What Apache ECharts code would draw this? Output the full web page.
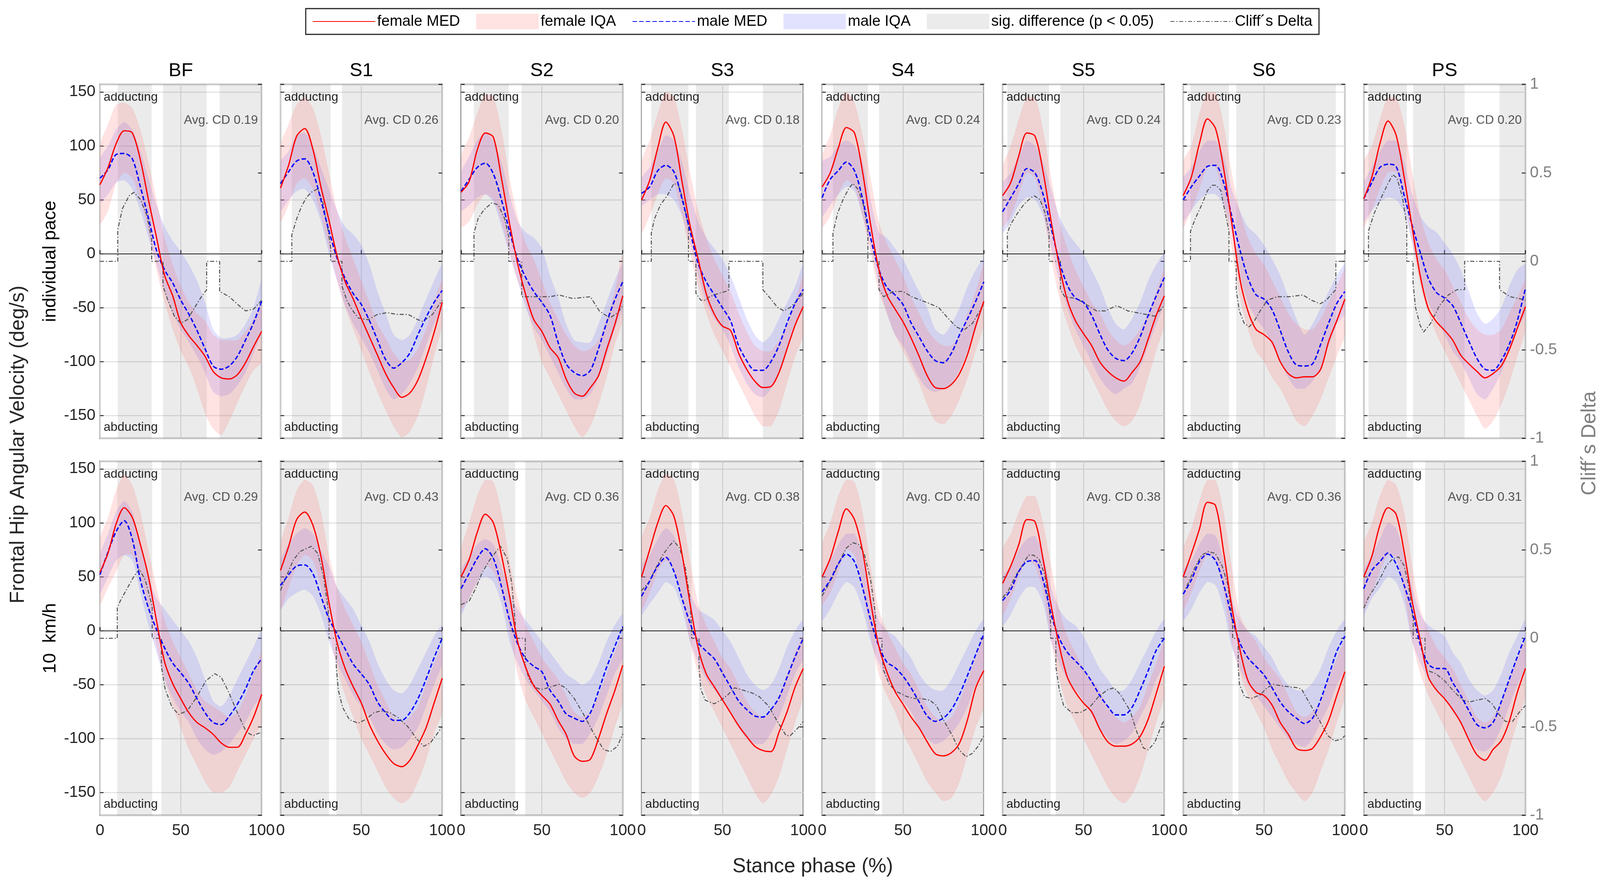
<!DOCTYPE html>
<html>
<head>
<meta charset="utf-8">
<title>Frontal Hip Angular Velocity</title>
<script src="https://cdn.jsdelivr.net/npm/echarts@6/dist/echarts.min.js"></script>
<style>
  html, body { margin: 0; padding: 0; background: #fff; overflow: hidden; }
  #chart { width: 100vw; height: 100vh; }
</style>
</head>
<body>
<div id="chart"></div>
<script>
(function () {
    'use strict';

    // columns = shoe conditions, rows = running pace
    var shoes = ['BF', 'S1', 'S2', 'S3', 'S4', 'S5', 'S6', 'PS'];
    var paces = ['individual pace', '10  km/h'];
    var phase = [0, 5, 10, 15, 20, 25, 30, 35, 40, 45, 50, 55, 60, 65, 70, 75, 80, 85, 90, 95, 100];
    var cdTicks = [-1, -0.5, 0, 0.5, 1];

    var avgCD = [
        [0.19, 0.26, 0.20, 0.18, 0.24, 0.24, 0.23, 0.20],
        [0.29, 0.43, 0.36, 0.38, 0.40, 0.38, 0.36, 0.31]
    ];

    var femaleMed = [[
        [64, 80, 102, 114, 112, 87, 50, 15, -20, -39, -64, -76, -85, -95, -109, -115, -116, -112, -101, -86, -72],
        [61, 82, 109, 116, 97, 62, 31, -2, -26, -42, -60, -77, -94, -111, -124, -133, -129, -117, -97, -73, -45],
        [57, 67, 96, 112, 108, 70, 28, -9, -38, -61, -72, -87, -96, -116, -129, -132, -124, -113, -89, -66, -39],
        [50, 68, 98, 122, 109, 67, 26, -5, -37, -56, -67, -71, -92, -107, -118, -124, -123, -110, -88, -66, -49],
        [62, 75, 98, 117, 112, 76, 27, -14, -38, -51, -63, -78, -95, -113, -124, -125, -121, -111, -93, -67, -44],
        [54, 66, 91, 112, 109, 76, 30, -11, -43, -62, -74, -85, -100, -109, -115, -118, -110, -100, -79, -57, -39],
        [54, 71, 102, 125, 116, 79, 29, -23, -53, -70, -75, -82, -100, -111, -115, -114, -114, -107, -81, -62, -42],
        [51, 71, 102, 123, 110, 71, 24, -21, -51, -63, -71, -80, -94, -102, -109, -115, -111, -104, -89, -69, -49]
    ], [
        [54, 72, 99, 114, 105, 80, 50, 9, -29, -49, -63, -76, -85, -90, -96, -104, -108, -108, -96, -80, -59],
        [56, 78, 103, 110, 98, 69, 26, -11, -35, -52, -67, -87, -102, -114, -123, -126, -120, -106, -90, -67, -44],
        [50, 66, 91, 108, 100, 70, 32, -10, -34, -51, -60, -68, -83, -96, -116, -121, -119, -100, -77, -56, -32],
        [50, 75, 100, 116, 106, 71, 25, -16, -40, -52, -64, -76, -88, -98, -107, -111, -112, -94, -75, -52, -35],
        [50, 67, 92, 113, 103, 74, 27, -14, -38, -56, -68, -80, -90, -103, -114, -116, -113, -104, -82, -53, -37],
        [44, 60, 80, 103, 101, 66, 23, -14, -43, -57, -67, -75, -91, -103, -107, -107, -105, -98, -82, -58, -33],
        [50, 71, 94, 119, 116, 73, 23, -17, -46, -57, -60, -69, -85, -96, -109, -111, -109, -98, -83, -60, -38],
        [50, 69, 98, 114, 108, 73, 27, -9, -43, -55, -63, -73, -85, -101, -115, -120, -110, -102, -84, -57, -35]
    ]];

    var femaleLow = [[
        [28, 40, 65, 75, 70, 50, 20, -15, -45, -70, -90, -105, -125, -148, -162, -168, -155, -138, -122, -108, -100],
        [30, 45, 65, 70, 60, 35, 5, -25, -50, -70, -90, -110, -128, -145, -160, -170, -165, -150, -125, -95, -65],
        [25, 30, 45, 55, 50, 30, 0, -25, -45, -75, -100, -115, -130, -145, -160, -170, -160, -140, -115, -85, -60],
        [20, 35, 55, 70, 65, 35, 0, -30, -55, -75, -90, -105, -120, -135, -150, -160, -160, -145, -120, -95, -75],
        [25, 35, 55, 68, 62, 35, 0, -35, -55, -75, -90, -105, -120, -140, -155, -158, -150, -135, -115, -90, -65],
        [25, 35, 55, 75, 70, 40, -5, -40, -65, -85, -100, -115, -130, -145, -155, -160, -155, -140, -115, -90, -65],
        [25, 40, 60, 80, 80, 50, 5, -40, -70, -90, -100, -115, -125, -140, -155, -160, -150, -135, -115, -95, -75],
        [25, 40, 60, 75, 75, 50, 10, -30, -55, -75, -90, -105, -120, -135, -150, -162, -155, -140, -120, -95, -70]
    ], [
        [25, 40, 55, 70, 70, 50, 20, -15, -45, -70, -90, -110, -125, -140, -150, -150, -145, -130, -115, -100, -85],
        [20, 40, 60, 70, 65, 40, 0, -35, -60, -80, -100, -115, -130, -145, -155, -160, -155, -140, -120, -95, -75],
        [20, 30, 45, 60, 55, 35, 0, -40, -65, -80, -95, -110, -125, -140, -150, -155, -150, -135, -115, -90, -65],
        [20, 35, 55, 65, 55, 30, -10, -40, -60, -75, -90, -105, -120, -135, -150, -160, -152, -135, -110, -85, -60],
        [25, 35, 55, 75, 70, 40, -5, -40, -60, -75, -95, -110, -125, -140, -150, -158, -155, -140, -115, -90, -70],
        [15, 30, 50, 65, 60, 35, -10, -45, -70, -85, -100, -115, -130, -145, -155, -160, -152, -135, -110, -85, -60],
        [20, 35, 55, 70, 65, 35, -10, -40, -60, -75, -90, -110, -125, -140, -150, -158, -150, -130, -110, -85, -60],
        [20, 35, 55, 70, 68, 35, -10, -40, -60, -75, -90, -105, -120, -135, -150, -158, -150, -135, -110, -85, -60]
    ]];

    var femaleHigh = [[
        [100, 120, 138, 140, 135, 115, 85, 50, 15, -10, -30, -45, -55, -62, -75, -80, -80, -80, -72, -60, -45],
        [100, 120, 138, 145, 135, 110, 75, 40, 15, -5, -25, -45, -65, -78, -92, -100, -98, -88, -70, -45, -25],
        [90, 108, 130, 148, 145, 115, 70, 35, 10, -5, -25, -45, -60, -75, -85, -90, -88, -80, -60, -35, 0],
        [85, 105, 130, 150, 145, 115, 75, 40, 15, -5, -20, -35, -55, -72, -85, -90, -90, -80, -65, -45, -20],
        [90, 110, 135, 150, 140, 110, 70, 30, 10, -5, -20, -40, -55, -70, -80, -85, -85, -75, -55, -35, -10],
        [80, 100, 125, 145, 145, 115, 70, 30, 5, -15, -30, -45, -55, -70, -80, -85, -80, -70, -55, -35, -15],
        [85, 100, 130, 150, 150, 120, 75, 40, 15, 0, -10, -25, -40, -55, -65, -70, -70, -60, -45, -30, -15],
        [85, 100, 125, 145, 145, 120, 75, 35, 10, -5, -15, -30, -45, -60, -70, -75, -75, -70, -55, -40, -25]
    ], [
        [85, 105, 130, 145, 135, 110, 75, 40, 10, -10, -25, -40, -55, -65, -70, -75, -80, -75, -60, -40, -20],
        [80, 105, 130, 140, 135, 110, 70, 40, 20, 5, -10, -30, -50, -65, -80, -85, -80, -70, -50, -30, -15],
        [75, 100, 125, 140, 138, 110, 65, 30, 5, -10, -25, -35, -45, -60, -75, -80, -75, -60, -40, -20, -5],
        [85, 105, 130, 145, 140, 110, 65, 25, 5, -10, -25, -35, -50, -65, -75, -80, -75, -60, -40, -20, -5],
        [80, 100, 125, 140, 138, 110, 60, 20, 0, -15, -30, -40, -55, -70, -80, -85, -80, -65, -45, -25, -5],
        [75, 90, 110, 125, 125, 100, 60, 20, -5, -20, -35, -45, -55, -70, -80, -85, -80, -70, -50, -30, -10],
        [75, 95, 120, 140, 140, 110, 60, 15, 0, -10, -25, -35, -45, -60, -75, -80, -75, -65, -45, -25, -10],
        [80, 100, 125, 140, 135, 110, 60, 20, 0, -15, -25, -35, -50, -65, -80, -85, -80, -65, -45, -25, -10]
    ]];

    var maleMed = [[
        [70, 78, 92, 93, 88, 62, 33, 3, -15, -27, -43, -56, -71, -88, -104, -107, -104, -95, -80, -64, -44],
        [65, 76, 86, 88, 76, 50, 21, -4, -23, -37, -47, -62, -80, -98, -106, -101, -92, -75, -59, -45, -34],
        [58, 69, 80, 84, 74, 50, 21, -5, -22, -35, -45, -57, -82, -102, -110, -113, -108, -88, -64, -43, -26],
        [56, 62, 77, 82, 76, 51, 21, -9, -26, -38, -50, -62, -85, -99, -108, -108, -100, -85, -64, -46, -33],
        [52, 69, 77, 85, 77, 51, 15, -14, -31, -38, -47, -64, -77, -90, -99, -101, -92, -75, -60, -44, -26],
        [39, 52, 65, 79, 75, 55, 24, -7, -29, -41, -45, -57, -74, -89, -97, -99, -92, -77, -57, -39, -22],
        [50, 62, 72, 81, 82, 66, 35, 4, -22, -38, -42, -52, -71, -91, -103, -104, -102, -84, -64, -46, -35],
        [51, 66, 80, 83, 81, 54, 26, 1, -23, -36, -41, -48, -64, -81, -97, -107, -108, -99, -84, -62, -32]
    ], [
        [52, 73, 92, 102, 85, 47, 21, 1, -16, -30, -39, -49, -63, -76, -85, -87, -79, -68, -54, -37, -26],
        [42, 52, 60, 61, 53, 32, 11, -3, -17, -31, -40, -50, -66, -76, -83, -83, -76, -63, -45, -25, -7],
        [39, 53, 67, 76, 67, 41, 10, -12, -26, -33, -38, -55, -65, -77, -81, -84, -76, -56, -34, -15, 4],
        [32, 46, 60, 68, 55, 30, 7, -11, -19, -26, -39, -52, -65, -73, -79, -80, -73, -62, -43, -24, -7],
        [36, 47, 62, 71, 64, 40, 10, -14, -29, -34, -42, -53, -66, -79, -84, -81, -73, -59, -41, -22, -3],
        [28, 38, 55, 64, 65, 47, 15, -7, -20, -28, -36, -47, -60, -70, -78, -78, -71, -55, -37, -18, -7],
        [34, 47, 64, 71, 65, 43, 13, -11, -25, -33, -41, -53, -66, -75, -81, -86, -81, -64, -42, -19, -5],
        [39, 56, 64, 72, 62, 42, 18, -13, -31, -35, -35, -48, -60, -74, -87, -90, -85, -66, -45, -24, -5]
    ]];

    var maleLow = [[
        [48, 55, 66, 68, 60, 40, 15, -10, -35, -55, -70, -82, -95, -110, -128, -132, -130, -122, -110, -92, -72],
        [40, 50, 58, 60, 50, 30, 0, -25, -48, -65, -78, -92, -108, -125, -135, -130, -120, -105, -85, -65, -50],
        [40, 45, 52, 55, 48, 25, 0, -25, -50, -68, -80, -95, -110, -125, -135, -135, -130, -115, -95, -70, -50],
        [45, 50, 55, 55, 50, 35, 10, -20, -45, -60, -70, -85, -105, -120, -130, -133, -125, -110, -90, -65, -50],
        [35, 45, 55, 62, 58, 35, 5, -28, -55, -75, -85, -100, -115, -125, -128, -125, -120, -108, -90, -70, -45],
        [20, 30, 45, 52, 50, 35, 5, -25, -50, -70, -85, -100, -115, -125, -130, -125, -120, -105, -85, -65, -45],
        [30, 40, 50, 55, 55, 45, 20, -20, -45, -60, -70, -85, -100, -115, -125, -125, -118, -105, -85, -65, -55],
        [30, 40, 48, 52, 50, 38, 10, -20, -45, -60, -75, -90, -100, -115, -130, -135, -125, -110, -90, -70, -55]
    ], [
        [35, 50, 65, 70, 65, 35, 5, -20, -45, -62, -75, -85, -100, -110, -115, -112, -105, -95, -85, -70, -60],
        [20, 30, 35, 38, 32, 15, -10, -30, -45, -60, -70, -80, -95, -105, -110, -108, -100, -90, -70, -50, -30],
        [15, 30, 45, 50, 45, 25, -10, -30, -45, -55, -65, -75, -90, -100, -105, -105, -95, -80, -60, -40, -25],
        [15, 25, 35, 45, 40, 20, -10, -30, -45, -55, -65, -75, -90, -100, -105, -105, -95, -80, -60, -40, -25],
        [10, 20, 35, 45, 40, 20, -10, -30, -45, -55, -65, -75, -90, -100, -105, -102, -95, -85, -70, -50, -35],
        [5, 15, 30, 40, 40, 25, -10, -30, -45, -55, -65, -78, -90, -100, -105, -102, -95, -80, -65, -45, -30],
        [10, 20, 35, 45, 42, 20, -15, -35, -50, -60, -70, -80, -90, -100, -105, -108, -100, -85, -70, -50, -35],
        [15, 30, 40, 50, 45, 25, -10, -30, -45, -55, -62, -75, -85, -100, -110, -112, -105, -90, -70, -50, -35]
    ]];

    var maleHigh = [[
        [88, 100, 115, 122, 115, 95, 70, 45, 25, 12, 2, -10, -25, -45, -70, -78, -78, -75, -65, -50, -25],
        [85, 95, 110, 112, 100, 80, 60, 40, 25, 18, 8, -10, -35, -55, -75, -80, -75, -60, -42, -25, -10],
        [75, 90, 105, 112, 105, 85, 55, 30, 20, 15, 5, -20, -40, -65, -80, -82, -82, -65, -45, -25, -10],
        [70, 80, 95, 110, 105, 85, 55, 30, 15, 5, -5, -20, -40, -60, -75, -82, -75, -60, -45, -30, -10],
        [85, 90, 100, 105, 100, 85, 50, 20, 15, 5, -5, -20, -35, -50, -70, -75, -65, -50, -30, -15, -5],
        [65, 75, 90, 105, 100, 85, 60, 35, 20, 10, 0, -15, -30, -50, -65, -70, -60, -45, -25, -10, 0],
        [70, 80, 95, 105, 105, 90, 60, 40, 25, 18, 8, -5, -20, -40, -60, -75, -65, -50, -35, -20, -10],
        [65, 80, 95, 105, 105, 85, 55, 35, 25, 20, 10, 0, -15, -35, -55, -65, -60, -50, -30, -15, -10]
    ], [
        [70, 90, 110, 120, 110, 80, 50, 30, 20, 10, 0, -10, -25, -45, -65, -70, -60, -45, -30, -15, 0],
        [65, 80, 90, 95, 90, 75, 60, 40, 30, 20, 5, -10, -30, -45, -55, -58, -50, -35, -20, -5, 5],
        [55, 68, 80, 85, 80, 60, 35, 20, 10, 0, -10, -20, -30, -40, -45, -50, -45, -30, -10, 5, 15],
        [60, 70, 85, 95, 88, 65, 35, 20, 15, 10, 0, -10, -25, -40, -50, -55, -50, -35, -15, 0, 10],
        [50, 65, 80, 90, 90, 70, 35, 10, 0, -5, -15, -25, -40, -50, -55, -55, -45, -30, -15, 0, 10],
        [50, 60, 75, 85, 88, 70, 40, 20, 10, 5, -5, -20, -35, -45, -55, -55, -45, -30, -15, 0, 10],
        [55, 65, 80, 90, 88, 65, 30, 10, 0, -5, -15, -25, -40, -50, -55, -55, -48, -35, -15, 0, 10],
        [55, 70, 85, 100, 95, 70, 40, 15, 5, 0, -5, -20, -30, -45, -55, -60, -55, -40, -20, -5, 10]
    ]];

    // Cliff's delta, [phase %, delta]; zero where the difference is not significant
    var cliffDelta = [[
        [[0, 0], [11, 0], [11, 0.18], [14, 0.3], [18, 0.37], [21, 0.39], [25, 0.35], [29, 0.26], [32, 0.12], [32, 0], [39, 0], [39, -0.14], [42, -0.22], [46, -0.31], [50, -0.35], [54, -0.33], [58, -0.27], [62, -0.21], [66, -0.16], [66, 0], [74, 0], [74, -0.17], [80, -0.2], [86, -0.25], [90, -0.28], [95, -0.27], [100, -0.22]],
        [[0, 0], [7, 0], [7, 0.15], [10, 0.24], [13, 0.31], [16, 0.36], [19, 0.39], [23, 0.41], [26, 0.34], [29, 0.2], [31, 0.08], [31, 0], [38, 0], [38, -0.14], [41, -0.22], [44, -0.27], [48, -0.32], [54, -0.33], [60, -0.3], [66, -0.29], [72, -0.3], [79, -0.3], [85, -0.33], [88, -0.34], [94, -0.3], [100, -0.22]],
        [[0, 0], [8, 0], [8, 0.16], [10.5, 0.24], [14, 0.29], [19, 0.33], [23, 0.32], [27, 0.24], [29.5, 0.14], [29.5, 0], [37.5, 0], [37.5, -0.2], [42.5, -0.2], [49, -0.2], [55, -0.2], [60.5, -0.19], [69, -0.21], [80, -0.2], [85.5, -0.28], [92, -0.32], [97, -0.29], [100, -0.25]],
        [[0, 0], [6, 0], [6, 0.16], [8, 0.24], [11.7, 0.32], [15.8, 0.37], [20, 0.44], [22.8, 0.43], [25.6, 0.35], [28, 0.24], [29, 0.2], [29, 0], [33.6, 0], [33.6, -0.18], [36.7, -0.22], [39.5, -0.22], [42, -0.2], [48, -0.18], [52, -0.17], [54, -0.16], [54, 0], [75, 0], [75, -0.16], [79.7, -0.21], [84, -0.26], [88, -0.28], [92, -0.26], [96.4, -0.22], [100, -0.18]],
        [[0, 0], [6.7, 0], [6.7, 0.16], [9.5, 0.27], [13, 0.35], [16.4, 0.41], [19, 0.44], [22, 0.41], [25.5, 0.32], [27.6, 0.21], [28.3, 0.18], [28.3, 0], [35.2, 0], [35.2, -0.16], [38, -0.2], [44, -0.17], [50, -0.17], [55.4, -0.2], [64, -0.23], [72, -0.26], [77.7, -0.32], [83, -0.37], [87.5, -0.39], [93, -0.35], [100, -0.24]],
        [[0, 0], [2.9, 0], [2.9, 0.16], [5, 0.21], [9, 0.27], [13, 0.32], [17.5, 0.36], [19.6, 0.37], [23, 0.35], [26, 0.28], [28, 0.19], [28.7, 0.16], [28.7, 0], [35.7, 0], [35.7, -0.16], [38.4, -0.2], [45.4, -0.21], [51, -0.24], [58, -0.28], [63.5, -0.28], [70.5, -0.25], [77.4, -0.28], [83, -0.29], [88.6, -0.3], [94, -0.31], [100, -0.25]],
        [[0, 0], [4.5, 0], [4.5, 0.17], [7.4, 0.24], [12, 0.33], [15, 0.4], [18, 0.43], [20.3, 0.43], [23.3, 0.4], [25.6, 0.29], [27.9, 0.19], [28.3, 0.17], [28.3, 0], [32.8, 0], [32.8, -0.16], [34.7, -0.28], [37.7, -0.35], [40.8, -0.37], [43.8, -0.34], [47.6, -0.28], [52, -0.22], [58, -0.2], [65.8, -0.2], [74, -0.19], [79.4, -0.22], [84.7, -0.24], [88.5, -0.22], [92.3, -0.18], [94.4, -0.16], [94.4, 0], [100, 0]],
        [[0, 0], [2.9, 0], [2.9, 0.17], [6.4, 0.27], [10.8, 0.36], [15, 0.44], [18, 0.49], [20.6, 0.47], [24, 0.36], [26, 0.24], [26.6, 0.2], [26.6, 0], [30.5, 0], [30.5, -0.12], [32, -0.26], [34.8, -0.36], [37, -0.4], [41.4, -0.35], [46.8, -0.25], [52.3, -0.19], [57.7, -0.16], [62.4, -0.16], [62.4, 0], [84, 0], [84, -0.16], [90.5, -0.2], [96, -0.21], [100, -0.22]]
    ], [
        [[0, 0], [10.7, 0], [10.7, 0.17], [12.5, 0.21], [16.7, 0.28], [21, 0.35], [24.4, 0.39], [28, 0.33], [30.6, 0.24], [32.3, 0.18], [32.3, 0], [38, 0], [38, -0.16], [40.4, -0.29], [44.6, -0.39], [48.7, -0.43], [54, -0.41], [60, -0.33], [65.5, -0.24], [71, -0.2], [75, -0.22], [79.4, -0.3], [85, -0.42], [90.5, -0.53], [94.7, -0.55], [100, -0.53]],
        [[0, 0.27], [3.6, 0.35], [7.8, 0.44], [12, 0.49], [19, 0.52], [23, 0.48], [26.6, 0.35], [29.4, 0.17], [30, 0.1], [30, 0], [34.5, 0], [34.5, -0.16], [35.7, -0.29], [38.4, -0.39], [42.6, -0.46], [48, -0.48], [52.4, -0.46], [58, -0.42], [62, -0.41], [67.7, -0.42], [73, -0.45], [78.8, -0.5], [84.4, -0.57], [88.6, -0.61], [92.8, -0.59], [100, -0.5]],
        [[0, 0.19], [5, 0.21], [9, 0.28], [13, 0.37], [17.5, 0.44], [21.7, 0.49], [24.4, 0.52], [28.6, 0.45], [31.4, 0.31], [33, 0.14], [33.5, 0.1], [33.5, 0], [39.7, 0], [39.7, -0.16], [42.5, -0.24], [46.7, -0.28], [49.4, -0.29], [53.6, -0.28], [60.5, -0.26], [64.7, -0.28], [70, -0.34], [75.8, -0.43], [82.8, -0.55], [88.3, -0.63], [92.5, -0.64], [96.7, -0.61], [100, -0.54]],
        [[0, 0.27], [4.7, 0.32], [9, 0.4], [13, 0.47], [17, 0.52], [20, 0.55], [23.5, 0.51], [27, 0.4], [29.7, 0.24], [31, 0.05], [31, 0], [35.5, 0], [35.5, -0.16], [36.7, -0.29], [39.4, -0.35], [45, -0.37], [49, -0.35], [53.3, -0.32], [57.5, -0.28], [61.7, -0.29], [68.6, -0.31], [72.8, -0.33], [78.3, -0.38], [84, -0.47], [89.4, -0.55], [92, -0.55], [96.4, -0.51], [100, -0.47]],
        [[0, 0.24], [2.5, 0.28], [6.7, 0.35], [11, 0.44], [15, 0.51], [19, 0.54], [22.7, 0.53], [26, 0.48], [30, 0.33], [32.5, 0.17], [33, 0.12], [33, 0], [37, 0], [37, -0.09], [38, -0.18], [41.5, -0.26], [45.7, -0.3], [52.6, -0.33], [56.8, -0.34], [61, -0.34], [66.6, -0.35], [70.7, -0.38], [75, -0.46], [80.5, -0.55], [84.7, -0.63], [89, -0.67], [93, -0.65], [96.5, -0.61], [100, -0.55]],
        [[0, 0.23], [3.6, 0.27], [7.8, 0.35], [12, 0.41], [16, 0.47], [19, 0.47], [22.4, 0.45], [26, 0.36], [28, 0.24], [29.4, 0.11], [29.7, 0.08], [29.7, 0], [32.9, 0], [32.9, -0.16], [35, -0.29], [37.7, -0.38], [42.6, -0.42], [48, -0.42], [53.8, -0.39], [59.3, -0.33], [65, -0.29], [69, -0.28], [73, -0.32], [78.8, -0.41], [83, -0.53], [87, -0.62], [90, -0.63], [94, -0.59], [98.3, -0.49], [100, -0.46]],
        [[0, 0.25], [3, 0.31], [7.2, 0.4], [11.4, 0.47], [15.6, 0.49], [19.8, 0.48], [24, 0.41], [27.4, 0.31], [29.5, 0.17], [30.6, 0.06], [30.6, 0], [34, 0], [34, -0.16], [34.8, -0.26], [37.9, -0.33], [42, -0.34], [47.6, -0.32], [51.8, -0.28], [56, -0.26], [61.6, -0.27], [71.3, -0.28], [73.4, -0.29], [78.3, -0.37], [84, -0.46], [89.4, -0.55], [93.6, -0.58], [97.8, -0.57], [100, -0.55]],
        [[0, 0.17], [2.8, 0.23], [5.6, 0.27], [9.7, 0.33], [14, 0.41], [18, 0.45], [21.6, 0.46], [25, 0.41], [27.9, 0.29], [30, 0.14], [30.6, 0.1], [30.6, 0], [37.9, 0], [37.9, -0.13], [39, -0.18], [44.6, -0.2], [50, -0.24], [55.7, -0.3], [61.3, -0.35], [65.5, -0.36], [69.6, -0.35], [75.2, -0.34], [79.4, -0.37], [83.6, -0.43], [87.7, -0.47], [92, -0.47], [96, -0.42], [100, -0.38]]
    ]];

    // stance phase intervals with p < 0.05
    var sigSpans = [[
        [[11, 32], [39, 66], [74, 100]],
        [[7, 31], [38, 100]],
        [[8, 29.5], [37.5, 100]],
        [[6, 29], [33.6, 54], [75, 100]],
        [[6.7, 28.3], [35.2, 100]],
        [[2.9, 28.7], [35.7, 100]],
        [[4.5, 28.3], [32.8, 94.4]],
        [[2.9, 26.6], [30.5, 62.4], [84, 100]]
    ], [
        [[10.7, 32.3], [38, 100]],
        [[0, 30], [34.5, 100]],
        [[0, 33.5], [39.7, 100]],
        [[0, 31], [35.5, 100]],
        [[0, 33], [37, 100]],
        [[0, 29.7], [32.9, 100]],
        [[0, 30.6], [34, 100]],
        [[0, 30.6], [37.9, 100]]
    ]];

    // layout is designed on a 4354 x 2263 page and scaled to the real viewport
    var dom = document.getElementById('chart');
    var sx = dom.clientWidth / 4354, sy = dom.clientHeight / 2263, sf = Math.min(sx, sy);
    function X(v) { return v * sx; }
    function Y(v) { return v * sy; }
    function F(v) { return v * sf; }

    var GRID_LEFT = 272, PITCH = 491.3, GRID_W = 440, GRID_H = 906;
    var ROW_TOP = [216, 1181];
    var Y_MIN = -171, Y_MAX = 157;
    var FONT = '"Liberation Sans", Arial, Helvetica, sans-serif';
    var INK = '#262626';
    var RED = '#ff0000', BLUE = '#0000ff', CDGRAY = '#555555';
    var PINK = 'rgba(255, 120, 120, 0.21)';
    var LILAC = 'rgba(120, 120, 255, 0.21)';
    var SIG = 'rgba(0, 0, 0, 0.078)';
    var NOSYM = { color: 'rgba(0,0,0,0)', borderColor: 'rgba(0,0,0,0)', borderWidth: 0 };

    function pairs(xs, ys) {
        return xs.map(function (x, i) { return [x, ys[i]]; });
    }

    function sigItem(params, api) {
        var a = api.coord([api.value(0), Y_MAX]);
        var b = api.coord([api.value(1), Y_MIN]);
        return {
            type: 'rect',
            shape: { x: a[0], y: a[1], width: b[0] - a[0], height: b[1] - a[1] },
            style: { fill: SIG }
        };
    }

    function bandItem(lo, hi, color) {
        return function (params, api) {
            if (params.dataIndex !== 0) return null;
            var pts = [], i;
            for (i = 0; i < phase.length; i++) pts.push(api.coord([phase[i], hi[i]]));
            for (i = phase.length - 1; i >= 0; i--) pts.push(api.coord([phase[i], lo[i]]));
            var mn = [Infinity, Infinity], mx = [-Infinity, -Infinity];
            pts.forEach(function (p) {
                mn[0] = Math.min(mn[0], p[0]); mn[1] = Math.min(mn[1], p[1]);
                mx[0] = Math.max(mx[0], p[0]); mx[1] = Math.max(mx[1], p[1]);
            });
            return {
                type: 'polygon',
                shape: { points: pts, smooth: 0.25, smoothConstraint: [mn, mx] },
                style: { fill: color }
            };
        };
    }

    var tickStyle = { inside: true, length: F(10), lineStyle: { color: INK, width: F(2.5) } };
    var gridLine = { show: true, lineStyle: { color: '#dedede', width: F(2.5) } };

    var grids = [], xAxes = [], yAxes = [], series = [], graphic = [];

    for (var r = 0; r < 2; r++) {
        for (var c = 0; c < 8; c++) {
            var k = r * 8 + c;
            var left = GRID_LEFT + c * PITCH;
            var top = ROW_TOP[r];

            grids.push({
                left: X(left), top: Y(top), width: X(GRID_W), height: Y(GRID_H),
                show: true, borderColor: INK, borderWidth: F(3), backgroundColor: 'transparent'
            });

            xAxes.push({
                gridIndex: k, type: 'value', min: 0, max: 100, interval: 50,
                axisLine: { show: false },
                axisTick: tickStyle,
                axisLabel: { show: r === 1, margin: Y(20), fontSize: F(43), fontFamily: FONT, color: INK },
                splitLine: gridLine
            });

            yAxes.push({
                gridIndex: k, type: 'value', position: 'left',
                min: Y_MIN, max: Y_MAX, minInterval: 50, maxInterval: 50,
                axisLine: { show: false },
                axisTick: tickStyle,
                axisLabel: {
                    show: c === 0, margin: X(12), fontSize: F(43), fontFamily: FONT, color: INK,
                    showMinLabel: false, showMaxLabel: false
                },
                splitLine: gridLine
            });
            yAxes.push({
                gridIndex: k, type: 'value', position: 'right',
                min: cdTicks[0], max: cdTicks[cdTicks.length - 1], interval: 0.5,
                axisLine: { show: false },
                axisTick: tickStyle,
                axisLabel: { show: c === 7, margin: X(12), fontSize: F(43), fontFamily: FONT, color: '#808080' },
                splitLine: { show: false }
            });

            series.push({
                type: 'custom', name: 'sig. difference (p < 0.05)',
                xAxisIndex: k, yAxisIndex: 2 * k,
                data: sigSpans[r][c], renderItem: sigItem,
                itemStyle: { color: SIG }, clip: true, silent: true, z: 1
            });
            series.push({
                type: 'custom', name: 'male IQA',
                xAxisIndex: k, yAxisIndex: 2 * k,
                data: pairs(phase, maleMed[r][c]),
                renderItem: bandItem(maleLow[r][c], maleHigh[r][c], LILAC),
                itemStyle: { color: LILAC }, clip: true, silent: true, z: 2
            });
            series.push({
                type: 'custom', name: 'female IQA',
                xAxisIndex: k, yAxisIndex: 2 * k,
                data: pairs(phase, femaleMed[r][c]),
                renderItem: bandItem(femaleLow[r][c], femaleHigh[r][c], PINK),
                itemStyle: { color: PINK }, clip: true, silent: true, z: 2
            });
            series.push({
                type: 'line', name: 'Cliff\u00b4s Delta',
                xAxisIndex: k, yAxisIndex: 2 * k + 1,
                data: cliffDelta[r][c], symbol: 'none', silent: true,
                itemStyle: { color: CDGRAY },
                lineStyle: { color: CDGRAY, width: F(2.8), type: [F(11), F(5), F(3), F(5)] }, z: 3
            });
            series.push({
                type: 'line', name: 'male MED',
                xAxisIndex: k, yAxisIndex: 2 * k,
                data: pairs(phase, maleMed[r][c]), smooth: 0.3, symbol: 'none', silent: true,
                itemStyle: { color: BLUE },
                lineStyle: { color: BLUE, width: F(3.8), type: [F(12), F(6)] }, z: 4,
                markLine: {
                    silent: true, symbol: ['none', 'none'], animation: false,
                    label: { show: false },
                    lineStyle: { color: INK, width: F(2), type: 'solid' },
                    data: [{ yAxis: 0 }]
                }
            });
            series.push({
                type: 'line', name: 'female MED',
                xAxisIndex: k, yAxisIndex: 2 * k,
                data: pairs(phase, femaleMed[r][c]), smooth: 0.3, symbol: 'none', silent: true,
                itemStyle: { color: RED },
                lineStyle: { color: RED, width: F(3.4) }, z: 5
            });

            // in-panel annotations
            graphic.push({
                type: 'text', x: X(left + 10), y: Y(top + 33), silent: true,
                style: { text: 'adducting', font: F(34) + 'px ' + FONT, fill: INK, align: 'left', verticalAlign: 'middle' }
            });
            graphic.push({
                type: 'text', x: X(left + 10), y: Y(top + GRID_H - 28), silent: true,
                style: { text: 'abducting', font: F(34) + 'px ' + FONT, fill: INK, align: 'left', verticalAlign: 'middle' }
            });
            graphic.push({
                type: 'text', x: X(left + GRID_W - 10), y: Y(top + 92), silent: true,
                style: { text: 'Avg. CD ' + avgCD[r][c].toFixed(2), font: F(34) + 'px ' + FONT, fill: '#595959', align: 'right', verticalAlign: 'middle' }
            });

            if (r === 0) {
                graphic.push({
                    type: 'text', x: X(left + GRID_W / 2), y: Y(182), silent: true,
                    style: { text: shoes[c], font: F(52) + 'px ' + FONT, fill: '#000', align: 'center', verticalAlign: 'middle' }
                });
            }
        }
        graphic.push({
            type: 'text', x: X(137), y: Y(ROW_TOP[r] + GRID_H / 2), rotation: Math.PI / 2, silent: true,
            style: { text: paces[r], font: F(50) + 'px ' + FONT, fill: '#000', align: 'center', verticalAlign: 'middle' }
        });
    }

    var plotRight = GRID_LEFT + 7 * PITCH + GRID_W;
    graphic.push({
        type: 'text', x: X(50), y: Y(1138), rotation: Math.PI / 2, silent: true,
        style: { text: 'Frontal Hip Angular Velocity (deg/s)', font: F(55) + 'px ' + FONT, fill: INK, align: 'center', verticalAlign: 'middle' }
    });
    graphic.push({
        type: 'text', x: X((GRID_LEFT + plotRight) / 2), y: Y(2219), silent: true,
        style: { text: 'Stance phase (%)', font: F(55) + 'px ' + FONT, fill: INK, align: 'center', verticalAlign: 'middle' }
    });
    graphic.push({
        type: 'text', x: X(4326), y: Y(1135), rotation: Math.PI / 2, silent: true,
        style: { text: 'Cliff\u00b4s Delta', font: F(55) + 'px ' + FONT, fill: '#808080', align: 'center', verticalAlign: 'middle' }
    });

    var chart = echarts.init(dom);
    chart.setOption({
        animation: false,
        backgroundColor: '#ffffff',
        legend: {
            left: X(832), top: Y(22),
            orient: 'horizontal',
            itemWidth: X(170), itemHeight: Y(40), itemGap: X(44),
            padding: [Y(13), X(18), Y(13), X(18)],
            borderColor: INK, borderWidth: F(3), backgroundColor: '#ffffff',
            selectedMode: false,
            textStyle: { fontSize: F(41), fontFamily: FONT, color: '#000' },
            data: [
                { name: 'female MED', itemStyle: NOSYM },
                { name: 'female IQA', icon: 'rect' },
                { name: 'male MED', itemStyle: NOSYM },
                { name: 'male IQA', icon: 'rect' },
                { name: 'sig. difference (p < 0.05)', icon: 'rect' },
                { name: 'Cliff\u00b4s Delta', itemStyle: NOSYM }
            ]
        },
        grid: grids,
        xAxis: xAxes,
        yAxis: yAxes,
        series: series,
        graphic: graphic
    });
})();
</script>
</body>
</html>
